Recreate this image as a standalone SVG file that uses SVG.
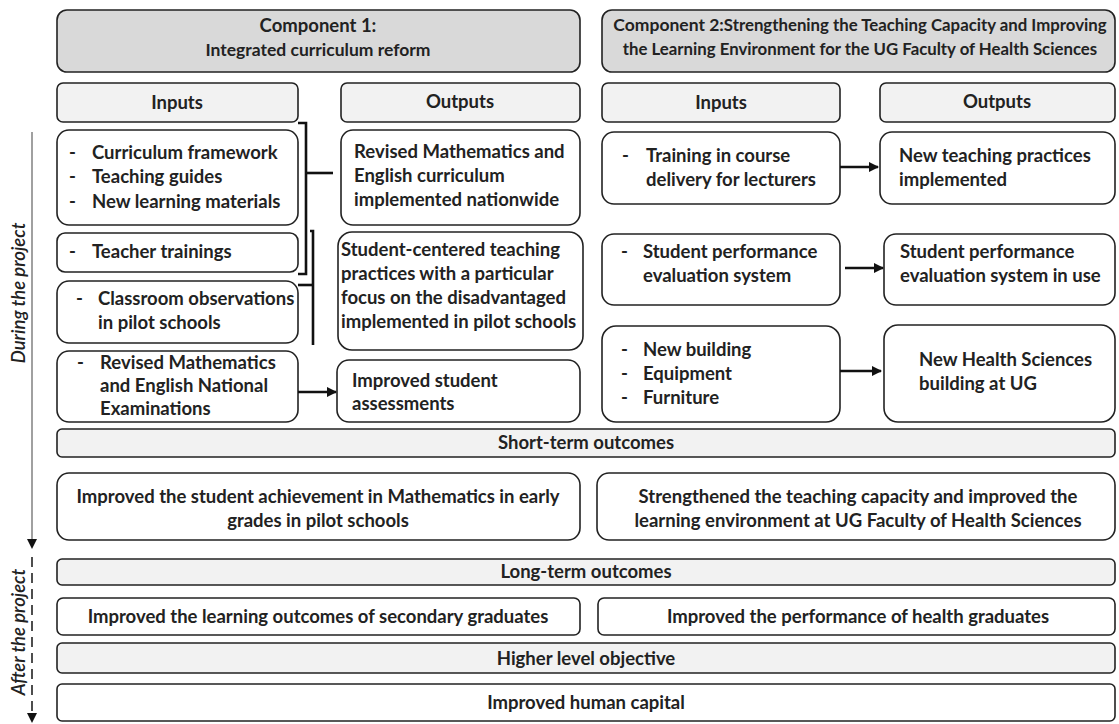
<svg xmlns="http://www.w3.org/2000/svg" width="1119" height="724" viewBox="0 0 1119 724">
<style>
text{font-family:Lato,"Open Sans","Liberation Sans",sans-serif;font-weight:700;font-size:18.5px;fill:#222}
.c{text-anchor:middle}
.box{fill:#fff;stroke:#222;stroke-width:1.6}
.hdr{fill:#d9d9d9;stroke:#222;stroke-width:1.6}
.lbl{fill:#f2f2f2;stroke:#222;stroke-width:1.6}
.ln{fill:none;stroke:#111;stroke-width:2.6}
.ax{font-style:italic;font-weight:600;font-size:18.5px}
</style>
<defs>
<marker id="ah" viewBox="0 0 10 10" refX="9" refY="5" markerWidth="4" markerHeight="4" orient="auto"><path d="M0,0L10,5L0,10z" fill="#111"/></marker>
</defs>
<rect width="1119" height="724" fill="#fff"/>

<g id="comp1"><rect class="hdr" x="57" y="10" width="523" height="62" rx="10"/><text class="c" x="318" y="32">Component 1:</text><text class="c" x="318" y="56" style="font-size:17.5px">Integrated curriculum reform</text></g>
<g id="comp2"><rect class="hdr" x="602" y="10" width="513" height="62" rx="10"/><text class="c" x="860" y="31" style="font-size:16.8px"><tspan style="font-size:17.5px">Component 2:</tspan>Strengthening the Teaching Capacity and Improving</text><text class="c" x="860" y="55" style="font-size:16.8px">the Learning Environment for the UG Faculty of Health Sciences</text></g>

<g id="inputs1"><rect class="lbl" x="57" y="83" width="241" height="39" rx="6"/><text class="c" x="177" y="109">Inputs</text></g>
<g id="outputs1"><rect class="lbl" x="341" y="83" width="239" height="39" rx="6"/><text class="c" x="460" y="108">Outputs</text></g>
<g id="inputs2"><rect class="lbl" x="602" y="83" width="238" height="39" rx="6"/><text class="c" x="721" y="109">Inputs</text></g>
<g id="outputs2"><rect class="lbl" x="880" y="83" width="235" height="39" rx="6"/><text class="c" x="997" y="108">Outputs</text></g>

<g id="in-materials"><rect class="box" x="57" y="130" width="241" height="95" rx="12"/><text x="69" y="159">-</text><text x="92" y="159">Curriculum framework</text><text x="69" y="183">-</text><text x="92" y="183">Teaching guides</text><text x="69" y="208">-</text><text x="92" y="208">New learning materials</text></g>
<g id="out-curriculum"><rect class="box" x="341" y="130" width="239" height="95" rx="12"/><text x="354" y="158">Revised Mathematics and</text><text x="354" y="182">English curriculum</text><text x="354" y="206">implemented nationwide</text></g>
<g id="in-training"><rect class="box" x="57" y="233" width="241" height="39" rx="8"/><text x="69" y="258">-</text><text x="92" y="258">Teacher trainings</text></g>
<g id="in-observations"><rect class="box" x="57" y="281" width="241" height="62" rx="12"/><text x="76" y="305">-</text><text x="98" y="305">Classroom observations</text><text x="98" y="329">in pilot schools</text></g>
<g id="out-student-centered"><rect class="box" x="338" y="232" width="245" height="118" rx="14"/><text x="341" y="256">Student-centered teaching</text><text x="341" y="280">practices with a particular</text><text x="341" y="304">focus on the disadvantaged</text><text x="341" y="328">implemented in pilot schools</text></g>
<g id="in-exams"><rect class="box" x="57" y="351" width="241" height="71" rx="12"/><text x="77" y="369">-</text><text x="100" y="369">Revised Mathematics</text><text x="100" y="392">and English National</text><text x="100" y="415">Examinations</text></g>
<g id="out-assessments"><rect class="box" x="337" y="360" width="243" height="62" rx="12"/><text x="352" y="387">Improved student</text><text x="352" y="410">assessments</text></g>

<g id="in-course"><rect class="box" x="602" y="132" width="238" height="72" rx="12"/><text x="622" y="162">-</text><text x="646" y="162">Training in course</text><text x="646" y="186">delivery for lecturers</text></g>
<g id="out-practices"><rect class="box" x="880" y="132" width="235" height="72" rx="12"/><text x="899" y="162">New teaching practices</text><text x="899" y="186">implemented</text></g>
<g id="in-evaluation"><rect class="box" x="602" y="234" width="238" height="71" rx="12"/><text x="621" y="258">-</text><text x="643" y="258">Student performance</text><text x="643" y="282">evaluation system</text></g>
<g id="out-evaluation"><rect class="box" x="884" y="234" width="231" height="71" rx="12"/><text x="900" y="258">Student performance</text><text x="900" y="282">evaluation system in use</text></g>
<g id="in-building"><rect class="box" x="602" y="326" width="238" height="96" rx="14"/><text x="621" y="356">-</text><text x="643" y="356">New building</text><text x="621" y="380">-</text><text x="643" y="380">Equipment</text><text x="621" y="404">-</text><text x="643" y="404">Furniture</text></g>
<g id="out-building"><rect class="box" x="884" y="325" width="231" height="97" rx="14"/><text x="919" y="366">New Health Sciences</text><text x="919" y="390">building at UG</text></g>

<g id="short-term"><rect class="lbl" x="57" y="429" width="1058" height="28" rx="5"/><text class="c" x="586" y="449">Short-term outcomes</text></g>
<g id="st-left"><rect class="box" x="57" y="473" width="523" height="67" rx="12"/><text class="c" x="318" y="503">Improved the student achievement in Mathematics in early</text><text class="c" x="318" y="527">grades in pilot schools</text></g>
<g id="st-right"><rect class="box" x="597" y="473" width="518" height="67" rx="12"/><text class="c" x="858" y="503">Strengthened the teaching capacity and improved the</text><text class="c" x="858" y="527">learning environment at UG Faculty of Health Sciences</text></g>
<g id="long-term"><rect class="lbl" x="57" y="559" width="1058" height="26" rx="5"/><text class="c" x="586" y="578">Long-term outcomes</text></g>
<g id="lt-left"><rect class="box" x="57" y="598" width="523" height="37" rx="6"/><text class="c" x="318" y="623">Improved the learning outcomes of secondary graduates</text></g>
<g id="lt-right"><rect class="box" x="598" y="598" width="517" height="37" rx="6"/><text class="c" x="858" y="623">Improved the performance of health graduates</text></g>
<g id="higher-level"><rect class="lbl" x="57" y="643" width="1058" height="30" rx="5"/><text class="c" x="586" y="665">Higher level objective</text></g>
<g id="human-capital"><rect class="box" x="57" y="684" width="1058" height="37" rx="5"/><text class="c" x="586" y="709">Improved human capital</text></g>

<g id="timeline">
<text class="ax c" transform="translate(25,293) rotate(-90)">During the project</text>
<text class="ax c" transform="translate(25,632) rotate(-90)">After the project</text>
</g>

<g id="connectors">
<path class="ln" d="M298,123H306V274H298"/>
<path class="ln" d="M306,173H333"/>
<path class="ln" d="M310,231H313V345"/>
<path class="ln" d="M298,285H313"/>
<path class="ln" d="M298,392H336" marker-end="url(#ah)"/>
<path class="ln" d="M840,167H878" marker-end="url(#ah)"/>
<path class="ln" d="M845,268H883" marker-end="url(#ah)"/>
<path class="ln" d="M840,371H881" marker-end="url(#ah)"/>
<path d="M32,132V540" stroke="#808080" stroke-width="1.5" fill="none"/>
<path d="M27,539H37L32,549z" fill="#111"/>
<path d="M32,557V713" stroke="#222" stroke-width="1.6" stroke-dasharray="10,6" fill="none"/>
<path d="M27,713H37L32,723z" fill="#111"/>
</g>
</svg>
